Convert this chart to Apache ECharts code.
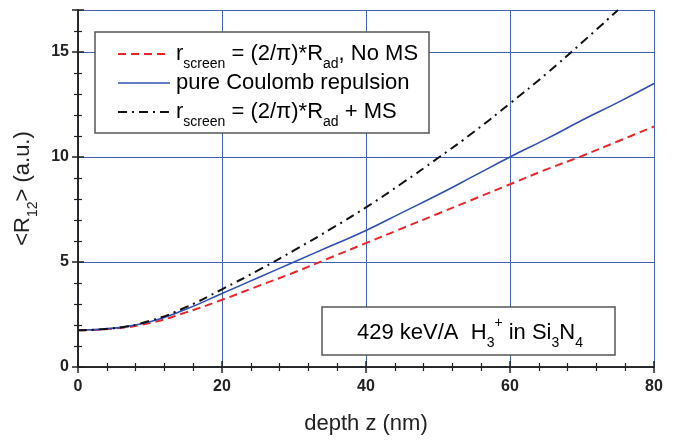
<!DOCTYPE html>
<html><head><meta charset="utf-8">
<script src="https://cdn.jsdelivr.net/npm/echarts@6/dist/echarts.min.js"></script>
<style>html,body{margin:0;padding:0;background:#fff}#c{width:690px;height:440px}</style>
</head><body><div id="c"></div>
<script>
const depth = [0,5,10,15,20,25,30,35,40,45,50,55,60,65,70,75,80];
const noMS =    [1.75,1.83,2.1,2.6,3.2,3.85,4.5,5.2,5.9,6.6,7.3,8.0,8.7,9.4,10.05,10.75,11.45];
const coulomb = [1.75,1.85,2.15,2.75,3.5,4.25,5.0,5.75,6.5,7.35,8.2,9.1,10.0,10.85,11.75,12.6,13.5];
const withMS =  [1.75,1.85,2.2,2.85,3.7,4.6,5.55,6.55,7.6,8.75,9.95,11.2,12.55,13.95,15.45,17.0];
const xTicks = {min:0, max:80, interval:20};
const yTicks = {min:0, max:17, interval:5};

const FONT = '"Liberation Sans", Arial, sans-serif';
const pairs = (ys) => ys.map((y,i)=>[depth[i], y]);
const chart = echarts.init(document.getElementById('c'));
const gridColor = '#4262b8';
const axisLine = {show:true, lineStyle:{color:'#222', width:1.5}};
const txtRich = {
  m:{fontSize:22, fontFamily:FONT, color:'#222', lineHeight:34, verticalAlign:'middle'},
  s:{fontSize:14, fontFamily:FONT, color:'#222', lineHeight:14, verticalAlign:'bottom'},
  p:{fontSize:14, fontFamily:FONT, color:'#222', lineHeight:14, verticalAlign:'top'}
};
chart.setOption({
  animation:false,
  grid:{left:78, right:36, top:10, bottom:72, containLabel:false},
  xAxis:[{
    type:'value', min:xTicks.min, max:xTicks.max, interval:xTicks.interval,
    name:'depth z (nm)', nameLocation:'middle', nameGap:46,
    nameTextStyle:{fontSize:22, fontFamily:FONT, color:'#222'},
    axisLine, axisTick:{show:true, inside:false, length:6, lineStyle:{color:'#222', width:1.5}},
    minorTick:{show:true, splitNumber:5, length:4, lineStyle:{color:'#222', width:1.2}},
    axisLabel:{fontSize:16, fontWeight:'bold', fontFamily:FONT, color:'#222', margin:12},
    splitLine:{show:true, lineStyle:{color:gridColor, width:1}}
  },{
    type:'value', position:'top', min:xTicks.min, max:xTicks.max, interval:xTicks.interval,
    axisLine, axisTick:{show:true, inside:false, length:6, lineStyle:{color:'#222', width:1.5}},
    minorTick:{show:true, splitNumber:5, length:4, lineStyle:{color:'#222', width:1.2}},
    axisLabel:{show:false}, splitLine:{show:false}
  }],
  yAxis:[{
    type:'value', min:yTicks.min, max:yTicks.max, interval:yTicks.interval,
    name:'{m|<R}{s|12}{m|> (a.u.)}', nameLocation:'middle', nameGap:31, nameRotate:90,
    nameTextStyle:{rich:txtRich},
    axisLine, axisTick:{show:true, inside:false, length:6, lineStyle:{color:'#222', width:1.5}},
    minorTick:{show:true, splitNumber:5, length:4, lineStyle:{color:'#222', width:1.2}},
    axisLabel:{fontSize:16, fontWeight:'bold', fontFamily:FONT, color:'#222', margin:9, showMaxLabel:false},
    splitLine:{show:true, lineStyle:{color:gridColor, width:1}}
  },{
    type:'value', position:'right', min:yTicks.min, max:yTicks.max, interval:yTicks.interval,
    axisLine, axisTick:{show:true, inside:false, length:6, lineStyle:{color:'#222', width:1.5}},
    minorTick:{show:true, splitNumber:5, length:4, lineStyle:{color:'#222', width:1.2}},
    axisLabel:{show:false}, splitLine:{show:false}
  }],
  series:[
    {type:'line', data:pairs(noMS), smooth:true, showSymbol:false, clip:true,
     lineStyle:{color:'#e8262a', width:2, type:[8,5]}},
    {type:'line', data:pairs(coulomb), smooth:true, showSymbol:false, clip:true,
     lineStyle:{color:'#2f4fb0', width:1.6}},
    {type:'line', data:pairs(withMS), smooth:true, showSymbol:false, clip:true,
     lineStyle:{color:'#111', width:2, type:[9,5,2,5]}}
  ],
  graphic:[
    {type:'rect', shape:{x:95, y:32, width:334, height:101}, z:100,
     style:{fill:'#fff', stroke:'#555', lineWidth:1.5}},
    {type:'line', shape:{x1:118, y1:54, x2:170, y2:54}, z:101, style:{stroke:'#e8262a', lineWidth:2, lineDash:[8,5]}},
    {type:'line', shape:{x1:118, y1:83, x2:170, y2:83}, z:101, style:{stroke:'#2f4fb0', lineWidth:1.6}},
    {type:'line', shape:{x1:118, y1:112, x2:170, y2:112}, z:101, style:{stroke:'#111', lineWidth:2, lineDash:[9,5,2,5]}},
    {type:'text', x:176, y:54, z:101, style:{text:'{m|r}{s|screen}{m| = (2/π)*R}{s|ad}{m|, No MS}', rich:txtRich, verticalAlign:'middle'}},
    {type:'text', x:176, y:83, z:101, style:{text:'{m|pure Coulomb repulsion}', rich:txtRich, verticalAlign:'middle'}},
    {type:'text', x:176, y:112, z:101, style:{text:'{m|r}{s|screen}{m| = (2/π)*R}{s|ad}{m| + MS}', rich:txtRich, verticalAlign:'middle'}},
    {type:'rect', shape:{x:322, y:307, width:293, height:48}, z:100,
     style:{fill:'#fff', stroke:'#555', lineWidth:1.5}},
    {type:'text', x:357, y:333, z:101, style:{text:'{m|429 keV/A  H}{s|3}{p|+}{m| in Si}{s|3}{m|N}{s|4}', rich:txtRich, verticalAlign:'middle'}}
  ]
});
</script></body></html>
